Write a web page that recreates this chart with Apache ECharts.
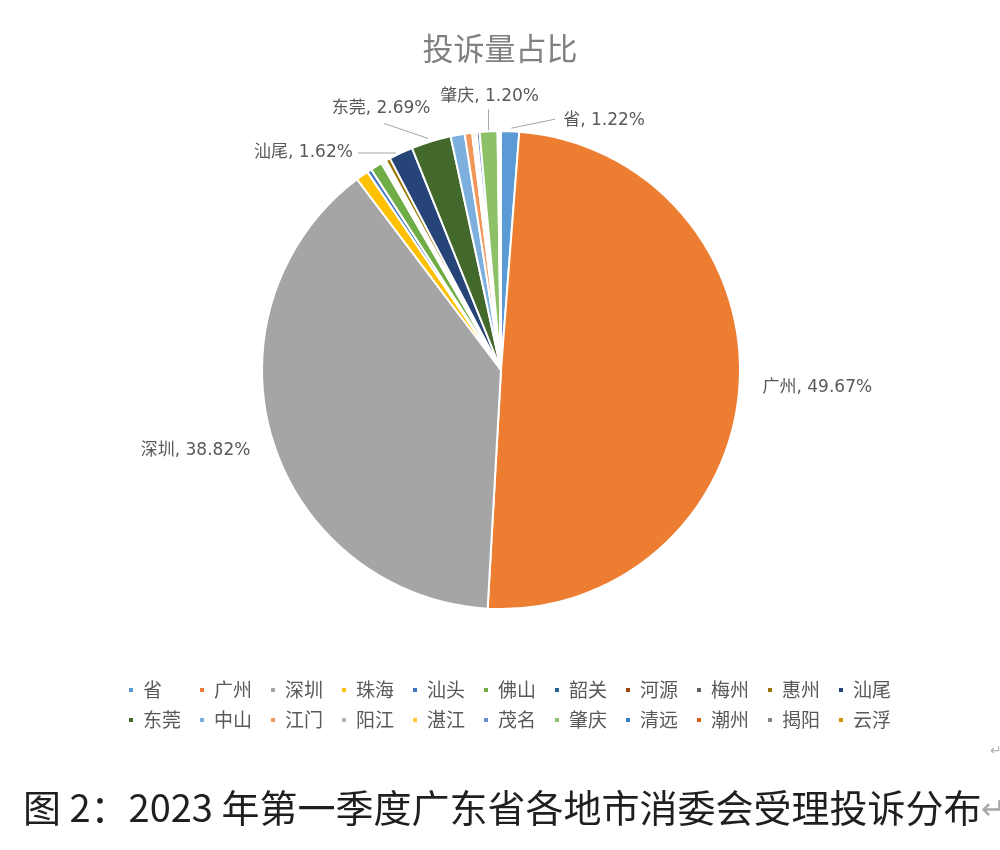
<!DOCTYPE html>
<html><head><meta charset="utf-8">
<script src="https://cdn.jsdelivr.net/npm/echarts@6/dist/echarts.min.js"></script>
<style>html,body{margin:0;padding:0;background:#fff}#c{width:1000px;height:850px}</style>
</head><body><div id="c"></div>
<script>
const categories = ['省','广州','深圳','珠海','汕头','佛山','韶关','河源','梅州','惠州','汕尾','东莞','中山','江门','阳江','湛江','茂名','肇庆','清远','潮州','揭阳','云浮'];
const shares = [1.22,49.67,38.82,0.85,0.30,0.80,0.15,0.10,0.10,0.30,1.62,2.69,0.95,0.50,0.15,0.15,0.20,1.20,0.06,0.06,0.06,0.05];
const colors = ['#5B9BD5','#ED7D31','#A5A5A5','#FFC000','#4472C4','#70AD47','#255E91','#9E480E','#636363','#997300','#264478','#43682B','#7CAFDD','#F1975A','#B7B7B7','#FFCD33','#698ED0','#8CC168','#327DC2','#D26012','#848484','#CC9A00'];
const labelled = ['省','广州','深圳','汕尾','东莞','肇庆'];
const chartTitle = '投诉量占比';
const caption = '图 2：2023 年第一季度广东省各地市消委会受理投诉分布';

const FONT = '"Noto Sans CJK SC", "Noto Sans", sans-serif';
const LABEL_FONT = '"DejaVu Sans", "Noto Sans CJK SC", sans-serif';
// label placement relative to the slice's outer mid-point (computed by ECharts)
const labelPlace = {
  '省':   {dx: 53,  dy: -11, align: 'left',   line: [[1, -3], [45, -12]]},
  '广州': {dx: 23,  dy: 2,   align: 'left',   line: null},
  '深圳': {dx: -22, dy: 11,  align: 'right',  line: null},
  '汕尾': {dx: -48, dy: 0,   align: 'right',  line: [[-5, 0], [-43, 0]]},
  '东莞': {dx: -50, dy: -33, align: 'center', line: [[-3, -3], [-47, -18]]},
  '肇庆': {dx: 1,   dy: -35, align: 'center', line: [[0, 0], [0, -22]]}
};

const chart = echarts.init(document.getElementById('c'), null, {renderer: 'canvas'});
chart.setOption({
  backgroundColor: '#fff',
  animation: false,
  title: [
    {text: chartTitle, left: 'center', top: 28,
     textStyle: {fontSize: 31, fontWeight: 'normal', color: '#808080', fontFamily: FONT}},
    {text: '{a|' + caption + '}{b|↵}', left: 18, top: 780,
     textStyle: {fontFamily: FONT, fontWeight: 'normal', rich: {
       a: {fontSize: 38, color: '#1f1f1f', fontFamily: FONT, fontWeight: 'normal', lineHeight: 46},
       b: {fontSize: 30, color: '#a8a8a8', fontFamily: FONT, fontWeight: 'normal', lineHeight: 46}}}},
    {text: '↵', left: 985, top: 738,
     textStyle: {fontSize: 14, fontWeight: 'normal', color: '#b0b0b0', fontFamily: FONT}}
  ],
  legend: {
    data: categories, left: 127, top: 677, width: 780, orient: 'horizontal', padding: 0,
    itemWidth: 6, itemHeight: 6, itemGap: 4, icon: 'rect', selectedMode: false,
    textStyle: {fontSize: 19, color: '#595959', width: 51, lineHeight: 26,
                padding: [0, 0, 0, 4], fontFamily: FONT}
  },
  series: [{
    type: 'pie', center: [501, 370], radius: 239, startAngle: 90, clockwise: true,
    avoidLabelOverlap: false,
    itemStyle: {borderColor: '#fff', borderWidth: 2},
    emphasis: {disabled: true},
    label: {show: false, color: '#595959', fontSize: 17, fontFamily: LABEL_FONT,
      formatter: p => p.name + ', ' + p.value.toFixed(2) + '%'},
    labelLine: {show: false, lineStyle: {color: '#A6A6A6', width: 1}},
    data: categories.map((n, i) => ({
      name: n, value: shares[i], itemStyle: {color: colors[i]},
      label: {show: labelled.includes(n)}, labelLine: {show: labelled.includes(n)}
    })),
    labelLayout: function (params) {
      const cfg = labelPlace[categories[params.dataIndex]];
      if (!cfg || !params.labelLinePoints) return {};
      const p0 = params.labelLinePoints[0];
      const pts = cfg.line ? cfg.line.map(o => [p0[0] + o[0], p0[1] + o[1]]) : [p0, p0];
      return {x: p0[0] + cfg.dx, y: p0[1] + cfg.dy, align: cfg.align,
              verticalAlign: 'middle', labelLinePoints: pts};
    }
  }]
});
</script></body></html>
